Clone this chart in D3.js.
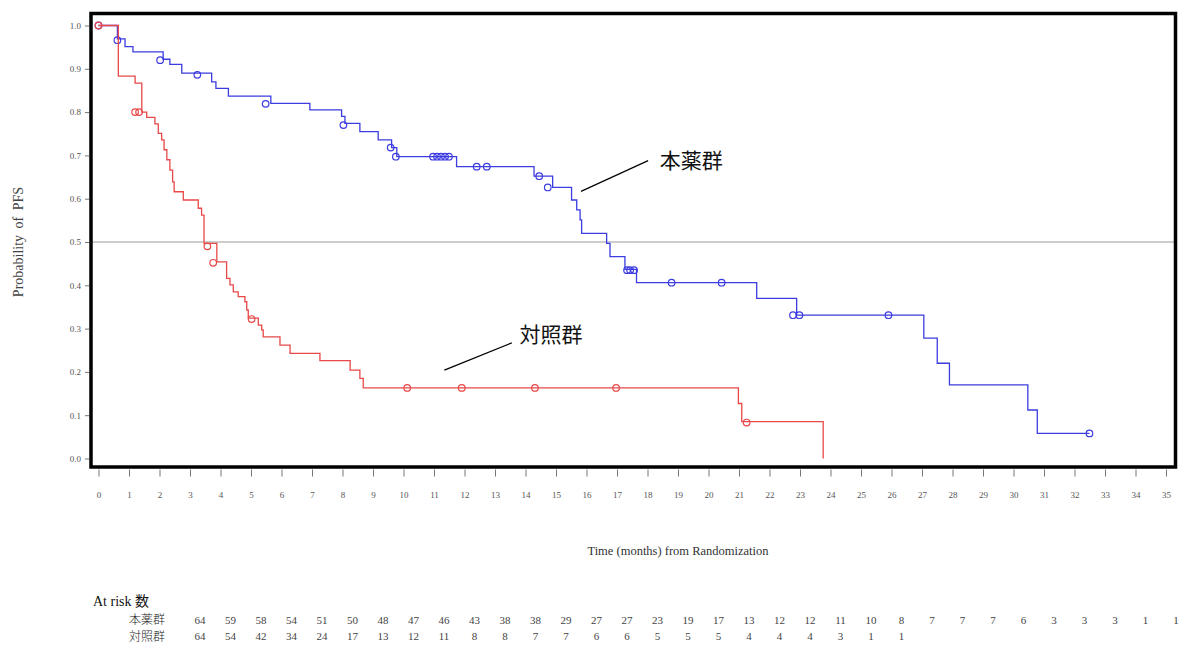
<!DOCTYPE html>
<html>
<head>
<meta charset="utf-8">
<script src="https://cdn.jsdelivr.net/npm/d3@7"></script>
<style>
  body { margin: 0; background: #fff; }
  svg { display: block; }
</style>
</head>
<body>
<div id="chart"></div>
<script>
// ##################################
// Kaplan-Meier PFS plot with at-risk table
// ##################################

// Step points [time (months), survival]
const drugSteps = [[0,1.0],[0.62,0.969],[0.87,0.951],[1.13,0.939],[2.12,0.922],[2.34,0.910],[2.73,0.890],
  [3.71,0.870],[3.85,0.855],[4.26,0.837],[5.65,0.820],[6.93,0.805],[7.97,0.790],[8.08,0.774],[8.57,0.755],
  [9.17,0.736],[9.61,0.718],[9.78,0.697],[11.74,0.674],[14.28,0.652],[14.89,0.626],[15.51,0.597],
  [15.68,0.574],[15.79,0.551],[15.84,0.520],[16.66,0.497],[16.77,0.466],[17.26,0.437],[17.64,0.406],
  [21.58,0.370],[22.89,0.331],[27.06,0.278],[27.5,0.220],[27.9,0.170],[30.47,0.112],[30.78,0.058],[32.49,0.058]];

const ctrlSteps = [[0,1.0],[0.65,0.883],[1.20,0.867],[1.42,0.800],[1.58,0.788],[1.85,0.773],[1.96,0.751],
  [2.07,0.736],[2.15,0.713],[2.24,0.690],[2.34,0.666],[2.43,0.639],[2.48,0.616],[2.78,0.597],[3.27,0.578],
  [3.38,0.562],[3.46,0.497],[3.88,0.454],[4.20,0.416],[4.31,0.401],[4.42,0.385],[4.58,0.374],[4.80,0.362],
  [4.86,0.343],[4.91,0.324],[5.24,0.308],[5.35,0.297],[5.40,0.281],[5.95,0.262],[6.28,0.243],[7.26,0.226],
  [8.25,0.204],[8.57,0.185],[8.68,0.163],[20.98,0.127],[21.09,0.085],[23.76,0.0]];

// Censored observations [time, survival]
const drugCensor = [[0,1.0],[0.62,0.966],[2.02,0.920],[3.24,0.886],[5.48,0.819],[8.03,0.770],[9.58,0.718],
  [9.75,0.697],[10.97,0.697],[11.10,0.697],[11.23,0.697],[11.36,0.697],[11.49,0.697],[12.40,0.674],
  [12.73,0.674],[14.45,0.652],[14.73,0.626],[17.33,0.435],[17.43,0.435],[17.56,0.435],[18.79,0.406],
  [20.43,0.406],[22.77,0.331],[22.98,0.331],[25.90,0.331],[32.49,0.058]];

const ctrlCensor = [[0,1.0],[1.20,0.800],[1.33,0.800],[3.57,0.490],[3.76,0.452],[5.02,0.322],
  [10.12,0.163],[11.91,0.163],[14.31,0.163],[16.97,0.163],[21.25,0.083]];

const xTicks = d3.range(0, 36);
const yTicks = [0, 0.1, 0.2, 0.3, 0.4, 0.5, 0.6, 0.7, 0.8, 0.9, 1.0];

const groupNames = ["本薬群", "対照群"];
const drugAtRisk = [64,59,58,54,51,50,48,47,46,43,38,38,29,27,27,23,19,17,13,12,12,11,10,8,7,7,7,6,3,3,3,1,1];
const ctrlAtRisk = [64,54,42,34,24,17,13,12,11,8,8,7,7,6,6,5,5,5,4,4,4,3,1,1];

// annotation: [label time, label surv, line start t, s, line end t, s]
const drugLabel = [18.4, 0.67, 15.82, 0.617, 18.02, 0.688];
const ctrlLabel = [13.8, 0.27, 11.34, 0.204, 13.55, 0.267];

const W = 1183, H = 645;
const blue = "#3c3ce0", red = "#e84848";

const svg = d3.select("#chart").append("svg")
  .attr("width", W).attr("height", H);

const x = d3.scaleLinear().domain([0, 35]).range([98.5, 1166]);
const y = d3.scaleLinear().domain([0, 1]).range([458.5, 25.5]);

// 0.5 reference line
svg.append("line")
  .attr("x1", 91).attr("x2", 1175)
  .attr("y1", y(0.5)).attr("y2", y(0.5))
  .attr("stroke", "#9a9a9a").attr("stroke-width", 1);

// Curves
const line = d3.line()
  .x(d => x(d[0])).y(d => y(d[1]))
  .curve(d3.curveStepAfter);

function drawGroup(steps, censor, color) {
  svg.append("path")
    .attr("d", line(steps))
    .attr("fill", "none")
    .attr("stroke", color)
    .attr("stroke-width", 1.3);
  svg.append("g")
    .selectAll("circle")
    .data(censor)
    .enter()
    .append("circle")
      .attr("cx", d => x(d[0]))
      .attr("cy", d => y(d[1]))
      .attr("r", 3.3)
      .attr("fill", "none")
      .attr("stroke", color)
      .attr("stroke-width", 1.2);
}
drawGroup(drugSteps, drugCensor, blue);
drawGroup(ctrlSteps, ctrlCensor, red);

// Frame
svg.append("rect")
  .attr("x", 91).attr("y", 13.5)
  .attr("width", 1084.5).attr("height", 453.5)
  .attr("fill", "none").attr("stroke", "#000").attr("stroke-width", 3.5);

// Axes
const yAxis = d3.axisLeft(y).tickValues(yTicks).tickSize(4).tickPadding(4)
  .tickFormat(d3.format(".1f"));
const gy = svg.append("g").attr("transform", "translate(89,0)").call(yAxis);

const xAxis = d3.axisBottom(x).tickValues(xTicks).tickSize(7).tickPadding(15);
const gx = svg.append("g").attr("transform", "translate(0,469.5)").call(xAxis);

[gx, gy].forEach(g => {
  g.select(".domain").remove();
  g.selectAll(".tick line").attr("stroke", "#777");
  g.selectAll(".tick text")
    .attr("font-family", "'Liberation Serif', 'Times New Roman', serif")
    .attr("font-size", 9)
    .attr("fill", "#555");
});

// Axis titles
svg.append("text")
  .attr("transform", "translate(23,242) rotate(-90)")
  .attr("text-anchor", "middle")
  .attr("font-family", "'Liberation Serif', 'Times New Roman', serif")
  .attr("font-size", 14)
  .attr("word-spacing", 3)
  .attr("fill", "#444")
  .text("Probability of PFS");

svg.append("text")
  .attr("x", 678).attr("y", 555)
  .attr("text-anchor", "middle")
  .attr("font-family", "'Liberation Serif', 'Times New Roman', serif")
  .attr("font-size", 12.5)
  .attr("fill", "#333")
  .text("Time (months) from Randomization");

// Group annotations
const cjk = "'Noto Sans CJK JP', 'Noto Sans CJK SC', sans-serif";
[[drugLabel, groupNames[0]], [ctrlLabel, groupNames[1]]].forEach(([a, name]) => {
  svg.append("line")
    .attr("x1", x(a[2])).attr("y1", y(a[3]))
    .attr("x2", x(a[4])).attr("y2", y(a[5]))
    .attr("stroke", "#000").attr("stroke-width", 1.2);
  svg.append("text")
    .attr("x", x(a[0])).attr("y", y(a[1]))
    .attr("font-family", cjk)
    .attr("font-size", 21)
    .attr("fill", "#111")
    .text(name);
});

// At-risk table
const xRisk = d3.scaleLinear().domain([0, 32]).range([200, 1176]);

svg.append("text")
  .attr("x", 93).attr("y", 606)
  .attr("font-family", "'Liberation Serif', 'Times New Roman', " + cjk)
  .attr("font-size", 14)
  .attr("fill", "#111")
  .text("At risk 数");

const rows = [[drugAtRisk, 623.5], [ctrlAtRisk, 641]];
rows.forEach(([vals, yy], i) => {
  svg.append("text")
    .attr("x", 165).attr("y", yy)
    .attr("text-anchor", "end")
    .attr("font-family", cjk)
    .attr("font-size", 12)
    .attr("font-weight", 300)
    .attr("fill", "#222")
    .text(groupNames[i]);
  svg.append("g")
    .selectAll("text")
    .data(vals)
    .enter()
    .append("text")
      .attr("x", (d, j) => xRisk(j))
      .attr("y", i === 0 ? yy + 0.5 : yy - 1)
      .attr("text-anchor", "middle")
      .attr("font-family", "'Liberation Serif', 'Times New Roman', serif")
      .attr("font-size", 11)
      .attr("fill", "#444")
      .text(d => d);
});
</script>
</body>
</html>
